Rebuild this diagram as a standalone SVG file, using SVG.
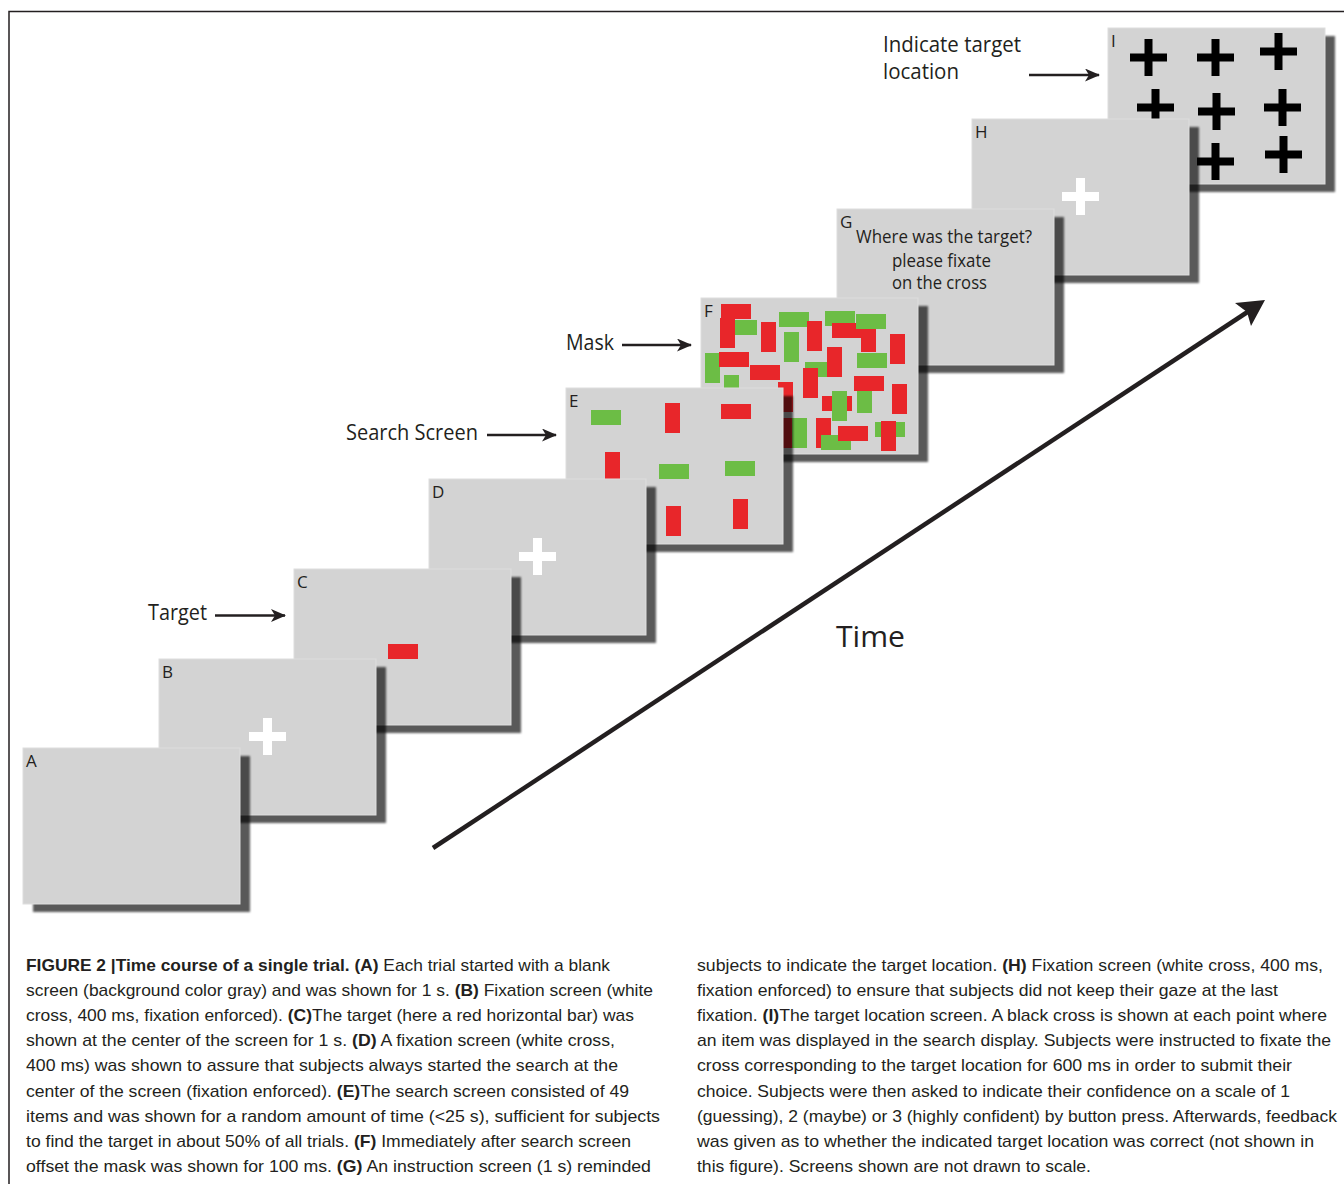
<svg xmlns="http://www.w3.org/2000/svg" width="1344" height="1184" viewBox="0 0 1344 1184">
<style>
.scr{fill:#d3d3d3;stroke:#dedede;stroke-width:1}
.sh{fill:#000;fill-opacity:0.65;filter:url(#blur)}
.lbl{font-family:"Open Sans","Noto Sans",sans-serif;font-size:17px;fill:#231f20}
.cap{font-family:"Open Sans","Noto Sans",sans-serif;fill:#231f20}
.r{fill:#e8262a}
.g{fill:#6cbd45}
.wc{fill:#ffffff}
.bc{fill:#000000}
.txt{font-family:"Liberation Sans",Arial,sans-serif;font-size:17px;fill:#231f20}
.b{font-weight:bold}
.arr{stroke:#231f20;stroke-width:2.5;fill:none;marker-end:url(#ah)}
</style>
<defs>
<filter id="blur" x="-10%" y="-10%" width="120%" height="120%"><feGaussianBlur stdDeviation="1.2"/></filter>
<marker id="ah" viewBox="0 0 15 13" refX="14" refY="6.5" markerWidth="15" markerHeight="13" markerUnits="userSpaceOnUse" orient="auto"><path d="M0,0 L15,6.5 L0,13 L4,6.5 Z" fill="#231f20"/></marker>
<path id="wcross" d="M-4.5,-18.5 h9 v14 h14 v9 h-14 v14 h-9 v-14 h-14 v-9 h14 z"/>
<path id="bcross" d="M-4,-18.5 h8 v14.5 h14.5 v8 h-14.5 v14.5 h-8 v-14.5 h-14.5 v-8 h14.5 z"/>
</defs>
<rect width="1344" height="1184" fill="#ffffff"/>
<path d="M9,1184 V11.5 H1344" fill="none" stroke="#231f20" stroke-width="1.5"/>

<g id="panel-I">
<rect class="sh" x="1118" y="36" width="217" height="156"/>
<rect class="scr" x="1108" y="28" width="217" height="156"/>
<use href="#bcross" class="bc" x="1148.5" y="57.5"/>
<use href="#bcross" class="bc" x="1215.5" y="57.5"/>
<use href="#bcross" class="bc" x="1278.5" y="51.5"/>
<use href="#bcross" class="bc" x="1155.5" y="107.5"/>
<use href="#bcross" class="bc" x="1216.5" y="111.5"/>
<use href="#bcross" class="bc" x="1282.5" y="107.5"/>
<use href="#bcross" class="bc" x="1150" y="160"/>
<use href="#bcross" class="bc" x="1215.5" y="161.5"/>
<use href="#bcross" class="bc" x="1283.5" y="154.5"/>
<text class="lbl" x="1111" y="47">I</text>
</g>

<g id="panel-H">
<rect class="sh" x="982" y="127" width="217" height="156"/>
<rect class="scr" x="972" y="119" width="217" height="156"/>
<use href="#wcross" class="wc" x="1080.5" y="196.5"/>
<text class="lbl" x="975" y="138">H</text>
</g>

<g id="panel-G">
<rect class="sh" x="847" y="217" width="217" height="156"/>
<rect class="scr" x="837" y="209" width="217" height="156"/>
<text class="lbl" x="840" y="228">G</text>
<text class="cap" x="856" y="243" font-size="17.5" textLength="176" lengthAdjust="spacingAndGlyphs">Where was the target?</text>
<text class="cap" x="892" y="266.5" font-size="17.5" textLength="99" lengthAdjust="spacingAndGlyphs">please fixate</text>
<text class="cap" x="892" y="289" font-size="17.5" textLength="95" lengthAdjust="spacingAndGlyphs">on the cross</text>
</g>

<g id="panel-F">
<rect class="sh" x="711" y="306" width="217" height="156"/>
<rect class="scr" x="701" y="298" width="217" height="156"/>
<rect class="g" x="705" y="353" width="15" height="30"/>
<rect class="g" x="727" y="320" width="30" height="15"/>
<rect class="r" x="721" y="304" width="30" height="15"/>
<rect class="r" x="720" y="318" width="15" height="30"/>
<rect class="r" x="761" y="322" width="15" height="30"/>
<rect class="g" x="779" y="312" width="30" height="15"/>
<rect class="r" x="807" y="321" width="15" height="30"/>
<rect class="g" x="825" y="311" width="30" height="15"/>
<rect class="r" x="832" y="323" width="30" height="15"/>
<rect class="r" x="861" y="322" width="15" height="30"/>
<rect class="g" x="856" y="314" width="30" height="15"/>
<rect class="g" x="784" y="332" width="15" height="30"/>
<rect class="r" x="890" y="334" width="15" height="30"/>
<rect class="r" x="719" y="352" width="30" height="15"/>
<rect class="g" x="805" y="362" width="30" height="15"/>
<rect class="r" x="827" y="347" width="15" height="30"/>
<rect class="g" x="857" y="353" width="30" height="15"/>
<rect class="r" x="750" y="365" width="30" height="15"/>
<rect class="r" x="803" y="368" width="15" height="30"/>
<rect class="g" x="724" y="375" width="15" height="30"/>
<rect class="g" x="857" y="383" width="15" height="30"/>
<rect class="r" x="854" y="376" width="30" height="15"/>
<rect class="r" x="778" y="382" width="15" height="30"/>
<rect class="r" x="892" y="384" width="15" height="30"/>
<rect class="r" x="822" y="396" width="30" height="15"/>
<rect class="g" x="832" y="391" width="15" height="30"/>
<rect class="r" x="778" y="418" width="15" height="30"/>
<rect class="g" x="792" y="418" width="15" height="30"/>
<rect class="r" x="816" y="418" width="15" height="30"/>
<rect class="g" x="821" y="435" width="30" height="15"/>
<rect class="r" x="838" y="426" width="30" height="15"/>
<rect class="g" x="875" y="422" width="30" height="15"/>
<rect class="r" x="881" y="421" width="15" height="30"/>
<text class="lbl" x="704" y="317">F</text>
</g>

<g id="panel-E">
<rect class="sh" x="576" y="396" width="217" height="156"/>
<rect class="scr" x="566" y="388" width="217" height="156"/>
<rect class="g" x="591" y="410" width="30" height="15"/>
<rect class="r" x="665" y="403" width="15" height="30"/>
<rect class="r" x="721" y="404" width="30" height="15"/>
<rect class="r" x="605" y="452" width="15" height="30"/>
<rect class="g" x="659" y="464" width="30" height="15"/>
<rect class="g" x="725" y="461" width="30" height="15"/>
<rect class="r" x="666" y="506" width="15" height="30"/>
<rect class="r" x="733" y="499" width="15" height="30"/>
<text class="lbl" x="569" y="407">E</text>
</g>

<g id="panel-D">
<rect class="sh" x="439" y="487" width="217" height="156"/>
<rect class="scr" x="429" y="479" width="217" height="156"/>
<use href="#wcross" class="wc" x="537.5" y="556.5"/>
<text class="lbl" x="432" y="498">D</text>
</g>

<g id="panel-C">
<rect class="sh" x="304" y="577" width="217" height="156"/>
<rect class="scr" x="294" y="569" width="217" height="156"/>
<rect class="r" x="388" y="644" width="30" height="15"/>
<text class="lbl" x="297" y="588">C</text>
</g>

<g id="panel-B">
<rect class="sh" x="169" y="667" width="217" height="156"/>
<rect class="scr" x="159" y="659" width="217" height="156"/>
<use href="#wcross" class="wc" x="267.5" y="736.5"/>
<text class="lbl" x="162" y="678">B</text>
</g>

<g id="panel-A">
<rect class="sh" x="33" y="756" width="217" height="156"/>
<rect class="scr" x="23" y="748" width="217" height="156"/>
<text class="lbl" x="26" y="767">A</text>
</g>

<g id="connectors">
<line class="arr" x1="215" y1="615.5" x2="285" y2="615.5"/>
<line class="arr" x1="487" y1="435" x2="556" y2="435"/>
<line class="arr" x1="622" y1="345" x2="691" y2="345"/>
<line class="arr" x1="1029" y1="75" x2="1099" y2="75"/>
<line x1="433" y1="848" x2="1249" y2="311" stroke="#231f20" stroke-width="4.5"/>
<polygon points="1265,300 1235,303 1247,312 1251,326" fill="#231f20"/>
</g>

<g id="labels">
<text class="cap" x="148" y="620" font-size="21" textLength="59" lengthAdjust="spacingAndGlyphs">Target</text>
<text class="cap" x="346" y="440" font-size="21" textLength="132" lengthAdjust="spacingAndGlyphs">Search Screen</text>
<text class="cap" x="566" y="350" font-size="21" textLength="48" lengthAdjust="spacingAndGlyphs">Mask</text>
<text class="cap" x="883" y="52" font-size="21" textLength="138" lengthAdjust="spacingAndGlyphs">Indicate target</text>
<text class="cap" x="883" y="79" font-size="21" textLength="76" lengthAdjust="spacingAndGlyphs">location</text>
<text class="cap" x="836" y="647" font-size="30" textLength="69" lengthAdjust="spacingAndGlyphs">Time</text>
</g>

<g id="caption">
<text class="txt" x="26" y="971" textLength="584" lengthAdjust="spacingAndGlyphs"><tspan class="b">FIGURE 2 |Time course of a single trial. (A)</tspan> Each trial started with a blank</text>
<text class="txt" x="26" y="996" textLength="627" lengthAdjust="spacingAndGlyphs">screen (background color gray) and was shown for 1 s. <tspan class="b">(B)</tspan> Fixation screen (white</text>
<text class="txt" x="26" y="1021" textLength="608" lengthAdjust="spacingAndGlyphs">cross, 400 ms, fixation enforced). <tspan class="b">(C)</tspan>The target (here a red horizontal bar) was</text>
<text class="txt" x="26" y="1046" textLength="589" lengthAdjust="spacingAndGlyphs">shown at the center of the screen for 1 s. <tspan class="b">(D)</tspan> A fixation screen (white cross,</text>
<text class="txt" x="26" y="1071" textLength="592" lengthAdjust="spacingAndGlyphs">400 ms) was shown to assure that subjects always started the search at the</text>
<text class="txt" x="26" y="1097" textLength="603" lengthAdjust="spacingAndGlyphs">center of the screen (fixation enforced). <tspan class="b">(E)</tspan>The search screen consisted of 49</text>
<text class="txt" x="26" y="1122" textLength="634" lengthAdjust="spacingAndGlyphs">items and was shown for a random amount of time (&lt;25 s), sufficient for subjects</text>
<text class="txt" x="26" y="1147" textLength="605" lengthAdjust="spacingAndGlyphs">to find the target in about 50% of all trials. <tspan class="b">(F)</tspan> Immediately after search screen</text>
<text class="txt" x="26" y="1172" textLength="625" lengthAdjust="spacingAndGlyphs">offset the mask was shown for 100 ms. <tspan class="b">(G)</tspan> An instruction screen (1 s) reminded</text>
<text class="txt" x="697" y="971" textLength="626" lengthAdjust="spacingAndGlyphs">subjects to indicate the target location. <tspan class="b">(H)</tspan> Fixation screen (white cross, 400 ms,</text>
<text class="txt" x="697" y="996" textLength="581" lengthAdjust="spacingAndGlyphs">fixation enforced) to ensure that subjects did not keep their gaze at the last</text>
<text class="txt" x="697" y="1021" textLength="630" lengthAdjust="spacingAndGlyphs">fixation. <tspan class="b">(I)</tspan>The target location screen. A black cross is shown at each point where</text>
<text class="txt" x="697" y="1046" textLength="634" lengthAdjust="spacingAndGlyphs">an item was displayed in the search display. Subjects were instructed to fixate the</text>
<text class="txt" x="697" y="1071" textLength="595" lengthAdjust="spacingAndGlyphs">cross corresponding to the target location for 600 ms in order to submit their</text>
<text class="txt" x="697" y="1097" textLength="593" lengthAdjust="spacingAndGlyphs">choice. Subjects were then asked to indicate their confidence on a scale of 1</text>
<text class="txt" x="697" y="1122" textLength="640" lengthAdjust="spacingAndGlyphs">(guessing), 2 (maybe) or 3 (highly confident) by button press. Afterwards, feedback</text>
<text class="txt" x="697" y="1147" textLength="617" lengthAdjust="spacingAndGlyphs">was given as to whether the indicated target location was correct (not shown in</text>
<text class="txt" x="697" y="1172" textLength="394" lengthAdjust="spacingAndGlyphs">this figure). Screens shown are not drawn to scale.</text>
</g>
</svg>
